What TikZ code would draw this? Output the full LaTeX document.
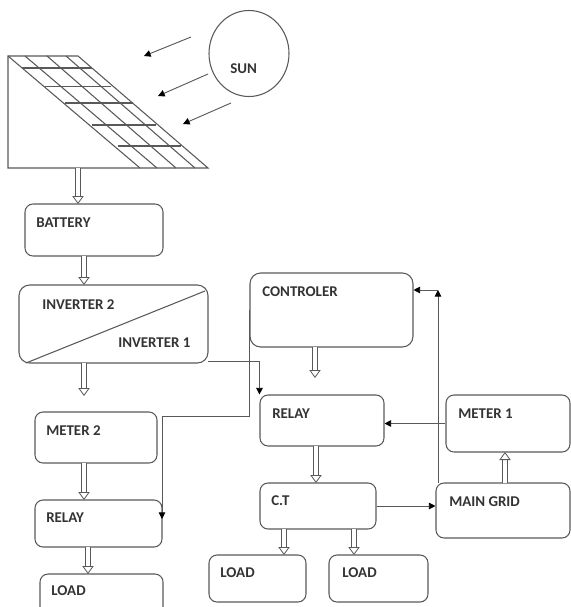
\documentclass[tikz,border=0pt]{standalone}
\usepackage{fontspec}
\setmainfont{Carlito}
\usetikzlibrary{arrows.meta, shapes.geometric}
\definecolor{linegrey}{gray}{0.35}
\tikzset{
    every node/.style = {font=\bfseries\fontsize{11.2}{13}\selectfont, text=black!80},
    block/.style 2 args = {draw=linegrey, line width=0.8pt, rounded corners=6pt, minimum width=#1*0.75pt, minimum height=#2*0.75pt},
    tag/.style = {anchor=west, inner sep=0pt},
    wire/.style = {draw=linegrey, line width=0.7pt, -{Triangle[length=5pt, width=5pt, color=black]}},
    hollow/.style = {draw=linegrey, line width=0.6pt, double=white, double distance=3.2pt, -{Triangle[open, length=6pt, width=8.5pt, fill=white]}},
    panel/.style = {draw=linegrey, line width=0.8pt}
}

\begin{document}
\begin{tikzpicture}[x=0.75pt, y=-0.75pt]
        \clip (0,0) rectangle (571,607);

        % solar panel
        \coordinate (pv) at (78,168);
        \draw[panel] (78,56) -- (8,56) -- (8,168) -- (208,168) -- cycle;
        \foreach \xtop/\xbot in {8/140, 25/157, 47/176, 66/195}
            \draw[panel] (\xtop,56) -- (\xbot,168);
        \foreach \y/\xa/\xb in {68/22/92, 86.5/45/111, 103/65/133, 125/92/156, 146/118/181}
            \draw[panel] (\xa,\y) -- (\xb,\y);

        % sun and rays
        \node[draw=linegrey, line width=0.8pt, ellipse, minimum width=60pt, minimum height=64.5pt] (sun) at (249,53.5) {};
        \node[tag] (suntag) at (230,69) {SUN};
        \coordinate (rayone) at (191,37);
        \coordinate (raytwo) at (208,74);
        \coordinate (raythree) at (231,103);
        \coordinate (spotone) at (144,56);
        \coordinate (spottwo) at (158,96);
        \coordinate (spotthree) at (183,124);
        \draw[wire] (rayone) -- (spotone);
        \draw[wire] (raytwo) -- (spottwo);
        \draw[wire] (raythree) -- (spotthree);

        % left column
        \node[block={138}{52}] (battery) at (94,230) {};
        \node[tag] (batterytag) at (36,223) {BATTERY};
        \node[block={189}{78}, rounded corners=8pt] (inverter) at (113.5,324) {};
        \node[tag] (invtwotag) at (42,305) {INVERTER 2};
        \node[tag] (invonetag) at (118,343) {INVERTER 1};
        \node[block={122}{51}] (metertwo) at (96,437.5) {};
        \node[tag] (metertwotag) at (46,431) {METER 2};
        \node[block={127}{47}] (relayl) at (98.5,523.5) {};
        \node[tag] (relayltag) at (46,518) {RELAY};
        \node[block={123}{46}] (loadl) at (101.5,597) {};
        \node[tag] (loadltag) at (51,591) {LOAD};

        % right part
        \node[block={163}{74}, rounded corners=8pt] (controler) at (331.5,310) {};
        \node[tag] (controlertag) at (262,292) {CONTROLER};
        \node[block={124}{51}] (relayr) at (322,420.5) {};
        \node[tag] (relayrtag) at (272,414) {RELAY};
        \node[block={116}{46}] (ct) at (318,506) {};
        \node[tag] (cttag) at (271,501) {C.T};
        \node[block={97}{47}] (loada) at (257.5,578.5) {};
        \node[tag] (loadatag) at (220,573) {LOAD};
        \node[block={99}{47}] (loadb) at (378.5,578.5) {};
        \node[tag] (loadbtag) at (342,573) {LOAD};
        \node[block={124}{57}] (meterone) at (508,423.5) {};
        \node[tag] (meteronetag) at (458,414) {METER 1};
        \node[block={134}{55}] (maingrid) at (503,510.5) {};
        \node[tag] (maingridtag) at (449,502) {MAIN GRID};

        % diagonal of the inverter
        \coordinate (diagstart) at (26,363);
        \coordinate (diagend) at (205,291);
        \draw[panel] (diagstart) -- (diagend);

        % hollow arrows
        \coordinate (inverterout) at (84,396);
        \coordinate (controlerout) at (315,378);
        \draw[hollow] (pv) -- (78,204);
        \draw[hollow] (84,256) -- (84,285);
        \draw[hollow] (84,363) -- (inverterout);
        \draw[hollow] (84,463) -- (84,500);
        \draw[hollow] (88,547) -- (88,574);
        \draw[hollow] (315,347) -- (controlerout);
        \draw[hollow] (316,446) -- (316,483);
        \draw[hollow] (284,529) -- (284,555);
        \draw[hollow] (354,529) -- (354,555);
        \draw[hollow] (505,483) -- (505,452);

        % thin wires
        \coordinate (invfeed) at (208,361);
        \coordinate (ctrlturn) at (162,416);
        \coordinate (relayin) at (162,519);
        \coordinate (gridup) at (438,483);
        \coordinate (gridturn) at (438,290);
        \draw[wire] (invfeed) -| (relayr.north west);
        \draw[wire] (controler.west) |- (ctrlturn) -- (relayin);
        \draw[wire] (gridup) -- (gridturn);
        \draw[wire] (gridturn) -- (gridturn -| controler.east);
        \draw[wire] (meterone.west) -- (meterone.west -| relayr.east);
        \draw[wire] (ct.east) -- (ct.east -| maingrid.west);
    \end{tikzpicture}
\end{document}
